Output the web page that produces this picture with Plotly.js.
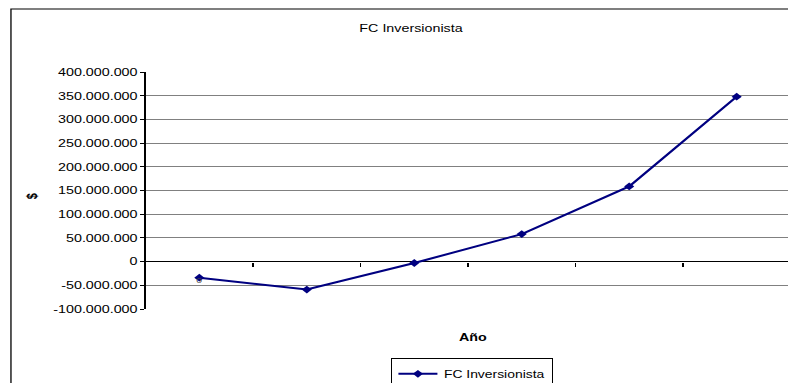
<!DOCTYPE html>
<html>
<head>
<meta charset="utf-8">
<script src="https://cdn.plot.ly/plotly-3.0.1.min.js"></script>
<style>
  html, body { margin: 0; padding: 0; width: 788px; height: 383px; overflow: hidden; background: #fff; }
  /* the chart is laid out narrow and widened horizontally, like a stretched spreadsheet chart */
  #wrap { width: 640px; height: 383px; transform: scaleX(1.3); transform-origin: 0 0; }
  #chart { width: 640px; height: 383px; }
</style>
</head>
<body>
<div id="wrap"><div id="chart"></div></div>
<script>
// Cash flow to the investor, by year
const years = [0, 1, 2, 3, 4, 5];
const fcInversionista = [-34000000, -59000000, -3000000, 58000000, 158500000, 348000000];

// Y-axis ticks with dot thousands separators
const yTickVals = [-100000000, -50000000, 0, 50000000, 100000000, 150000000, 200000000, 250000000, 300000000, 350000000, 400000000];
const yTickLabels = ['-100.000.000', '-50.000.000', '0', '50.000.000', '100.000.000', '150.000.000',
                     '200.000.000', '250.000.000', '300.000.000', '350.000.000', '400.000.000'];

// Year boundaries where the category ticks sit
const yearBounds = [0.5, 1.5, 2.5, 3.5, 4.5];

const seriesName = 'FC Inversionista';
const titleText = 'FC Inversionista';
const xTitle = 'Año';
const yTitle = '$';
const firstLabel = '0';

const font = 'Liberation Sans, Arial, sans-serif';
const navy = '#000080';

const trace = {
  x: years,
  y: fcInversionista,
  type: 'scatter',
  mode: 'lines+markers',
  name: seriesName,
  line: { color: navy, width: 2 },
  marker: { symbol: 'diamond', size: 6, color: navy },
  hoverinfo: 'skip'
};

const layout = {
  width: 640,
  height: 383,
  margin: { l: 112, r: 32, t: 72, b: 74, autoexpand: false },
  paper_bgcolor: '#ffffff',
  plot_bgcolor: '#ffffff',
  font: { family: font, size: 11, color: '#000' },
  showlegend: true,
  title: {
    text: titleText,
    font: { family: font, size: 11, color: '#000' },
    xref: 'container', yref: 'container',
    x: 0.494, y: 0.927, xanchor: 'center', yanchor: 'middle'
  },
  xaxis: {
    range: [-0.5, 5.5],
    anchor: 'free',
    position: 0.2,
    showgrid: false,
    zeroline: false,
    showline: false,
    ticks: 'outside',
    ticklen: 4,
    tickwidth: 1,
    tickcolor: '#000',
    tickmode: 'array',
    tickvals: yearBounds,
    showticklabels: false
  },
  yaxis: {
    range: [-100000000, 400000000],
    tickmode: 'array',
    tickvals: yTickVals,
    ticktext: yTickLabels,
    showgrid: true,
    gridcolor: '#808080',
    gridwidth: 1,
    zeroline: true,
    zerolinecolor: '#000',
    zerolinewidth: 1,
    showline: true,
    linecolor: '#000',
    linewidth: 1,
    ticks: 'outside',
    ticklen: 3,
    tickcolor: '#000',
    tickfont: { family: font, size: 11, color: '#000' }
  },
  legend: {
    orientation: 'h',
    x: 0.38, y: -0.208,
    xanchor: 'left', yanchor: 'top',
    bgcolor: '#fff',
    bordercolor: '#000',
    borderwidth: 1,
    itemwidth: 30,
    font: { family: font, size: 10.7, color: '#000' }
  },
  annotations: [
    {
      text: '<b>' + yTitle + '</b>',
      xref: 'paper', yref: 'paper',
      x: -0.1766, y: 0.478,
      xanchor: 'center', yanchor: 'middle',
      showarrow: false, textangle: -90,
      font: { family: font, size: 11, color: '#000' }
    },
    {
      text: '<b>' + xTitle + '</b>',
      xref: 'paper', yref: 'paper',
      x: 0.509, y: -0.118,
      xanchor: 'center', yanchor: 'middle',
      showarrow: false,
      font: { family: font, size: 11, color: '#000' }
    },
    {
      text: firstLabel,
      x: years[0], y: fcInversionista[0],
      xref: 'x', yref: 'y',
      yshift: -3,
      showarrow: false,
      font: { family: font, size: 8, color: '#444' }
    }
  ],
  shapes: [
    {
      type: 'rect',
      xref: 'paper', yref: 'paper',
      x0: -0.2088, x1: 1.5, y0: 1.266, y1: -0.6,
      line: { color: '#000', width: 1 },
      fillcolor: 'rgba(0,0,0,0)',
      layer: 'below'
    }
  ]
};

Plotly.newPlot('chart', [trace], layout, { displayModeBar: false, staticPlot: true });
</script>
</body>
</html>
